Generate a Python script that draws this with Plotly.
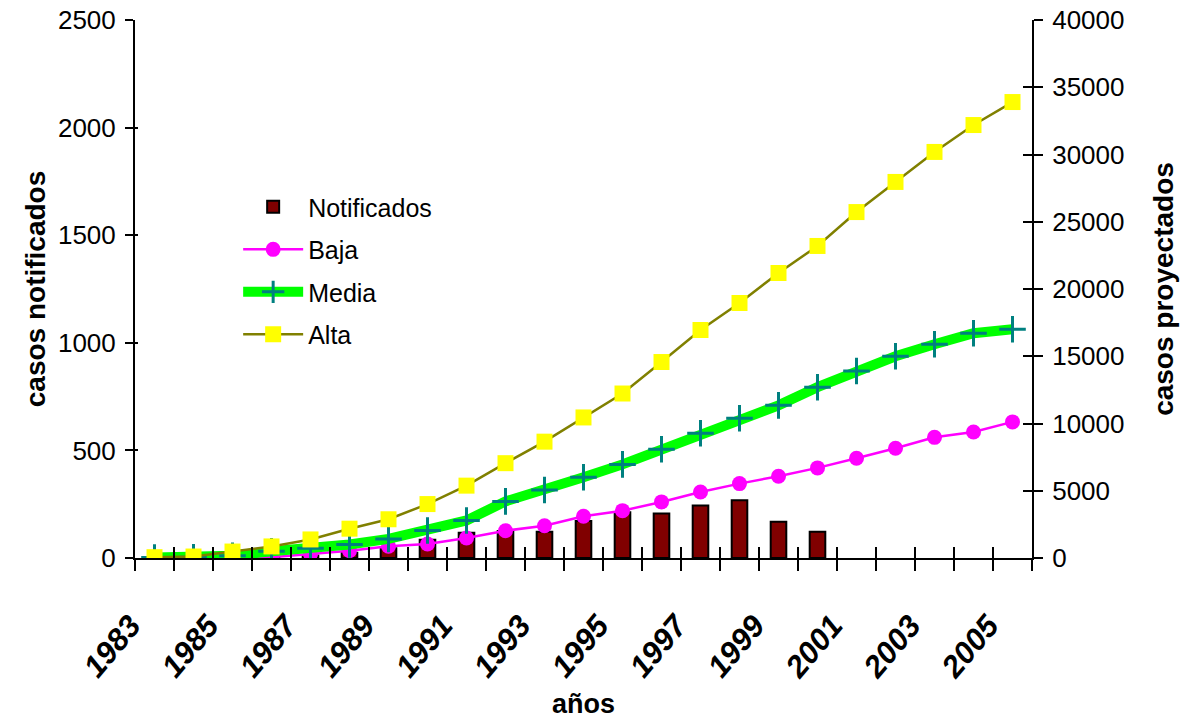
import plotly.graph_objects as go

# Years on the horizontal axis
years = [1983, 1984, 1985, 1986, 1987, 1988, 1989, 1990, 1991, 1992, 1993, 1994,
         1995, 1996, 1997, 1998, 1999, 2000, 2001, 2002, 2003, 2004, 2005]
year_labels = ["1983", "1985", "1987", "1989", "1991", "1993",
               "1995", "1997", "1999", "2001", "2003", "2005"]
label_years = [1983, 1985, 1987, 1989, 1991, 1993, 1995, 1997, 1999, 2001, 2003, 2005]

# Reported cases (left axis), 1983-2000
notificados = [0, 1, 3, 6, 12, 24, 45, 85, 117, 125, 122, 172, 213, 207, 244, 268, 168, 122,
               None, None, None, None, None]

# Projected cases (right axis) under three scenarios
baja = [10, 20, 30, 60, 300, 545, 870, 1040, 1490, 2030, 2400, 3100, 3520, 4170, 4910,
        5530, 6080, 6700, 7420, 8160, 8970, 9370, 10120]
media = [30, 50, 170, 500, 720, 1000, 1420, 2040, 2790, 4210, 5060, 6000, 6960, 8080,
         9270, 10390, 11350, 12700, 13900, 15000, 15890, 16710, 17010]
alta = [60, 110, 480, 860, 1380, 2180, 2880, 4010, 5380, 7050, 8650, 10450, 12230, 14570,
        16950, 18960, 21190, 23200, 25720, 27960, 30190, 32190, 33900]

boundaries = [y - 0.5 for y in years] + [years[-1] + 0.5]
x_range = [years[0] - 0.5, years[-1] + 0.5]

FONT = "Arial, Liberation Sans, sans-serif"

fig = go.Figure()

fig.add_trace(go.Bar(
    x=years, y=notificados, name="Notificados", width=0.4,
    marker=dict(color="#800000", line=dict(color="#000000", width=2)),
    legendgroup="a",
))
fig.add_trace(go.Scatter(
    x=years, y=baja, name="Baja", yaxis="y2", mode="lines+markers",
    line=dict(color="#FF00FF", width=2.5),
    marker=dict(symbol="circle", size=15, color="#FF00FF"),
    legendgroup="b",
))
fig.add_trace(go.Scatter(
    x=years, y=media, name="Media", yaxis="y2", mode="lines+markers",
    line=dict(color="#00FF00", width=10),
    marker=dict(symbol="cross-thin", size=19, color="#008080",
                line=dict(color="#008080", width=3)),
    legendgroup="c",
))
fig.add_trace(go.Scatter(
    x=years, y=alta, name="Alta", yaxis="y2", mode="lines+markers",
    line=dict(color="#808000", width=2.5),
    marker=dict(symbol="square", size=16, color="#FFFF00"),
    legendgroup="d",
))

# Empty traces that carry the inner halves of the crossing tick marks
fig.add_trace(go.Scatter(x=[None], y=[None], xaxis="x2", yaxis="y3",
                         showlegend=False, hoverinfo="skip"))
fig.add_trace(go.Scatter(x=[None], y=[None], xaxis="x3", yaxis="y4",
                         showlegend=False, hoverinfo="skip"))

axis_common = dict(showgrid=False, zeroline=False, tickcolor="black", tickwidth=2,
                   automargin=False)

fig.update_layout(
    width=1193, height=719,
    margin=dict(l=135, r=161, t=20, b=161),
    paper_bgcolor="white", plot_bgcolor="white",
    font=dict(family=FONT, color="black", size=26),
    barmode="overlay",
    showlegend=True,
    legend=dict(x=0.115, y=0.695, xanchor="left", yanchor="top",
                bgcolor="rgba(0,0,0,0)", font=dict(size=25),
                tracegroupgap=7, itemwidth=60),
    xaxis=dict(
        range=x_range, tickmode="array", tickvals=label_years, ticktext=year_labels,
        ticks="outside", ticklen=11, tickcolor="rgba(0,0,0,0)",
        tickangle=-50, showline=True, linecolor="black", linewidth=2,
        tickfont=dict(size=31, weight="bold", style="italic"),
        ticklabelstandoff=24, ticklabelshift=-24,
        minor=dict(tickmode="array", tickvals=boundaries, ticks="outside",
                   ticklen=11, tickwidth=2, tickcolor="black"),
        title=dict(text="años", font=dict(size=27, weight="bold"), standoff=14),
        showgrid=False, zeroline=False, automargin=False,
    ),
    xaxis2=dict(range=x_range, overlaying="x", anchor="y3", tickmode="array",
                tickvals=boundaries, ticks="inside", ticklen=11,
                showticklabels=False, showline=False, **axis_common),
    xaxis3=dict(range=x_range, overlaying="x", anchor="y4", tickmode="array",
                tickvals=boundaries, ticks="", showticklabels=False,
                showline=False, showgrid=False, zeroline=False, automargin=False),
    yaxis=dict(
        range=[0, 2500], dtick=500, ticks="outside", ticklen=8,
        showline=True, linecolor="black", linewidth=2,
        tickfont=dict(size=26), ticklabelstandoff=4,
        title=dict(text="casos notificados", font=dict(size=28, weight="bold"), standoff=4),
        **axis_common,
    ),
    yaxis2=dict(
        range=[0, 40000], dtick=5000, ticks="outside", ticklen=9,
        tickformat="d",
        overlaying="y", side="right", anchor="x",
        showline=True, linecolor="black", linewidth=2,
        tickfont=dict(size=26), ticklabelstandoff=4,
        title=dict(text="casos proyectados", font=dict(size=28, weight="bold"), standoff=30),
        **axis_common,
    ),
    yaxis3=dict(range=[0, 2500], dtick=500, ticks="inside", ticklen=3,
                overlaying="y", side="left", anchor="x2",
                showticklabels=False, showline=False, **axis_common),
    yaxis4=dict(range=[0, 40000], dtick=5000, ticks="inside", ticklen=9,
                overlaying="y", side="right", anchor="x3",
                showticklabels=False, showline=False, **axis_common),
)

fig.write_html("out.html")
